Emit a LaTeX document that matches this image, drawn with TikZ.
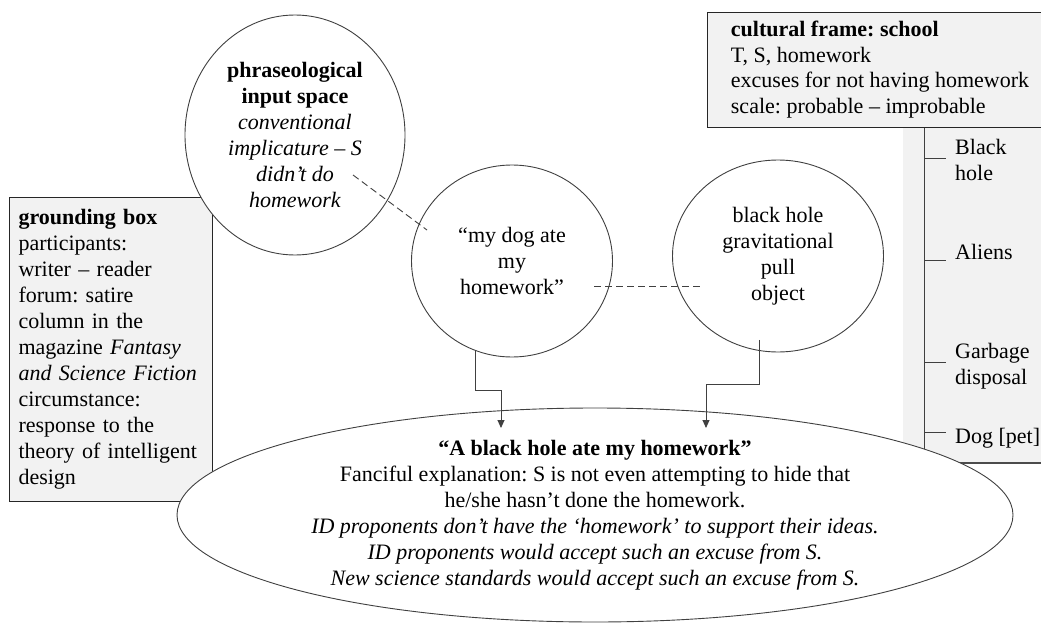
\documentclass[tikz,border=0pt]{standalone}
\usepackage{fontspec}
\setmainfont{Liberation Serif}
\usetikzlibrary{shapes.geometric,arrows.meta}
\definecolor{boxgray}{HTML}{F2F2F2}
\definecolor{linegray}{HTML}{404040}
\tikzset{
  txt/.style={font=\fontsize{22pt}{26pt}\selectfont\frenchspacing,text=black},
  space/.style={txt,ellipse,draw=linegray,fill=white,line width=0.9pt,inner sep=0pt,align=center},
  infobox/.style={txt,draw=black!85,fill=boxgray,line width=1pt,align=left,anchor=north west},
  flow/.style={draw=linegray,line width=0.9pt,-{Triangle[length=8pt,width=7pt]}},
  link/.style={draw=linegray,line width=0.9pt,dash pattern=on 7pt off 4pt},
}
\begin{document}
\begin{tikzpicture}[x=1pt,y=-1pt]
  \useasboundingbox (0,0) rectangle (1041,623);
  % scale of excuses
  \fill[boxgray] (903,127) rectangle (1045,463);
  \draw[black!70,line width=1.5pt] (903,463) -- (1045,463);
  \draw[linegray,line width=1pt] (924,127) -- (924,463);
  \foreach \y/\lab/\ty [count=\i] in {158/{Black\\hole}/160,260/Aliens/252,362/{Garbage\\disposal}/366,432/{Dog [pet]}/438}{
    \draw[linegray,line width=1pt] (924,\y) -- (946,\y);
    \node[txt,anchor=west,align=left,inner sep=0pt] (rung\i) at (955,\ty) {\lab};
  }
  % boxes
  \node[infobox,minimum width=345pt,inner xsep=10pt,inner ysep=9pt,
    font=\fontsize{22pt}{25.5pt}\selectfont\frenchspacing] (frame) at (707,12)
    {\textbf{cultural frame: school}\\T, S, homework\\excuses for not having homework\\scale: probable -- improbable};
  \node[infobox,text width=185pt,inner xsep=9pt,inner ysep=12pt,minimum height=304pt] (ground) at (9,197)
    {\textbf{grounding box}\\participants:\\writer -- reader\\forum: satire\\column in the\\magazine \textit{Fantasy}\\\textit{and Science Fiction}\\circumstance:\\response to the\\theory of intelligent\\design};
  % mental spaces
  \node[space,minimum width=220pt,minimum height=240pt] (phrase) at (295,135)
    {\textbf{phraseological}\\\textbf{input space}\\\textit{conventional}\\\textit{implicature -- S}\\\textit{didn’t do}\\\textit{homework}};
  \node[space,minimum width=201pt,minimum height=192pt] (dog) at (512,261) {“my dog ate\\my\\homework”};
  \node[space,minimum width=211pt,minimum height=192pt] (hole) at (778,256) {black hole\\gravitational\\pull\\object};
  \node[space,minimum width=836pt,minimum height=214pt] (blend) at (595,515)
    {\textbf{“A black hole ate my homework”}\\
     Fanciful explanation: S is not even attempting to hide that\\
     he/she hasn’t done the homework.\\
     \textit{ID proponents don’t have the ‘homework’ to support their ideas.}\\
     \textit{ID proponents would accept such an excuse from S.}\\
     \textit{New science standards would accept such an excuse from S.}};
  % connectors
  \coordinate (linkA) at (353,175);
  \coordinate (linkB) at (427,230);
  \coordinate (linkC) at (594,286);
  \coordinate (linkD) at (703,286);
  \coordinate (tipL) at (501,428);
  \coordinate (tipR) at (706,428);
  \draw[link] (linkA) -- (linkB);
  \draw[link] (linkC) -- (linkD);
  \draw[flow] (dog.-112) -- ++(0,39) -| (tipL);
  \draw[flow] ([yshift=11pt]hole.-101) -- ++(0,44) -| (tipR);
\end{tikzpicture}
\end{document}
